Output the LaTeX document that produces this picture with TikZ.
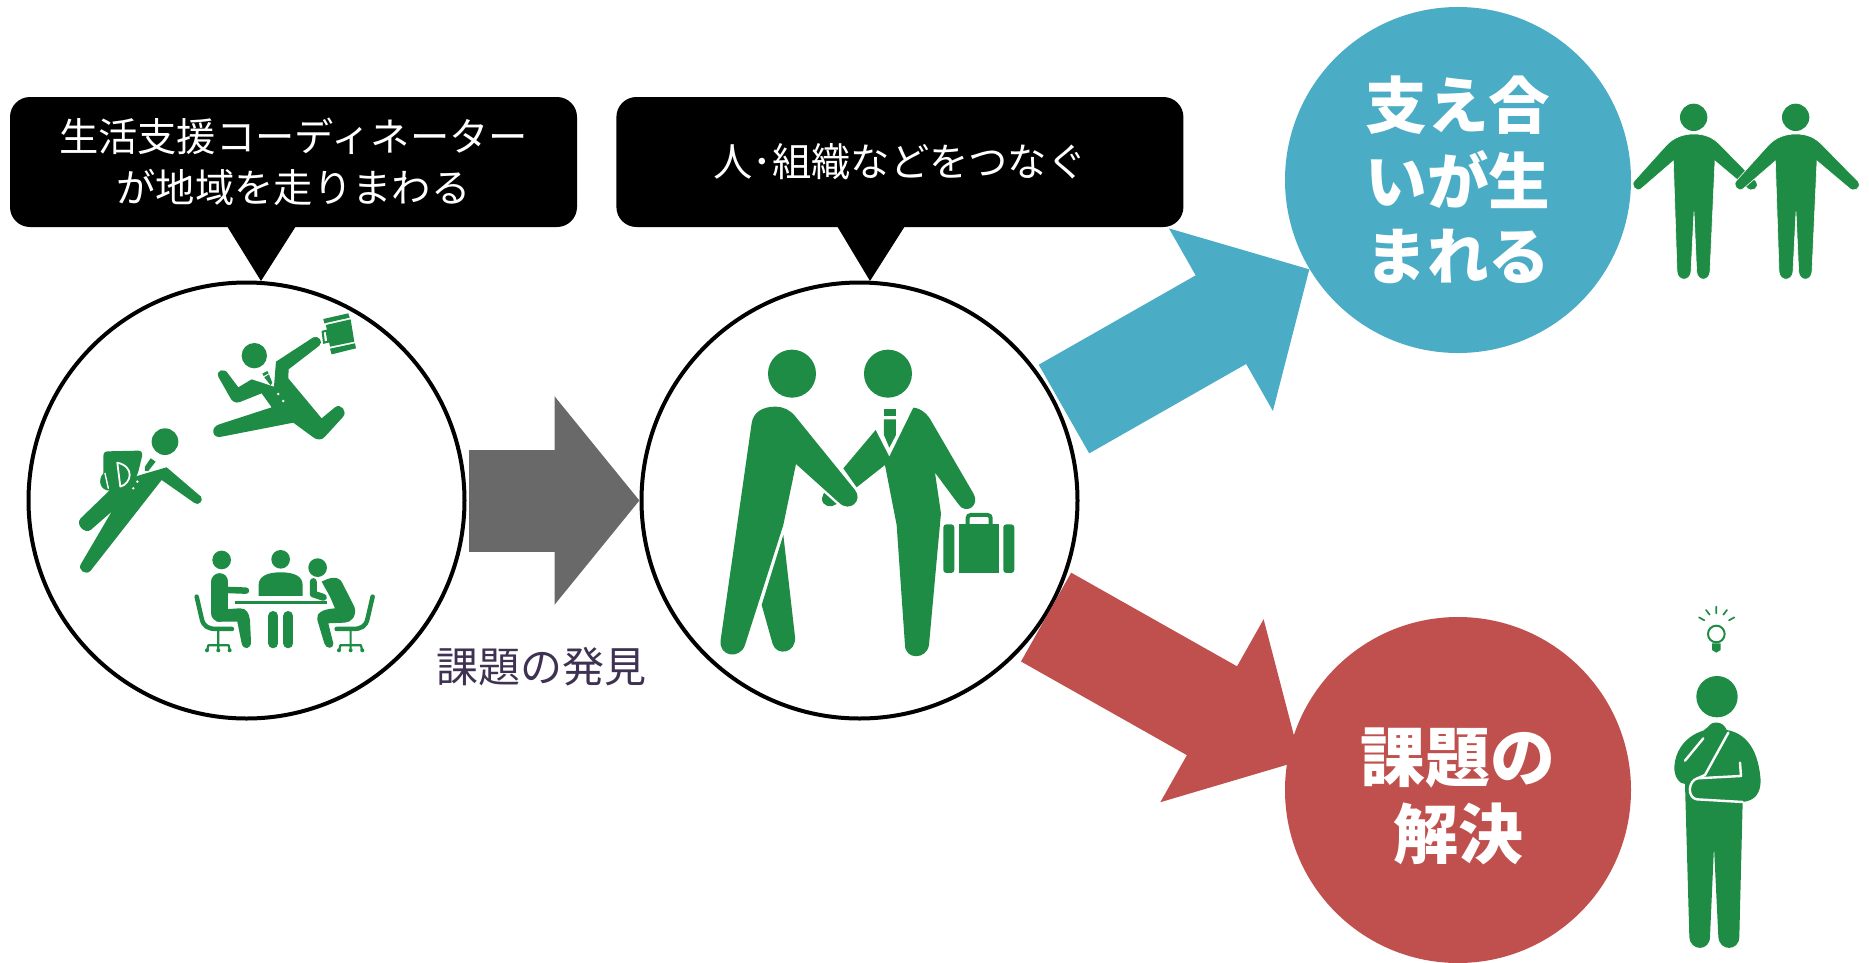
\documentclass[tikz,border=0pt]{standalone}
\usepackage{fontspec}
\setmainfont{Noto Sans CJK JP}
\usepackage{xcolor}
\usetikzlibrary{arrows.meta, positioning}
\definecolor{iconfill}{HTML}{1F8C45}
\definecolor{mutualblue}{HTML}{4BACC6}
\definecolor{solvered}{HTML}{C0504D}
\definecolor{flowgray}{HTML}{696969}
\definecolor{findink}{HTML}{3F3151}
\newcommand{\dropped}[2]{\raisebox{-#1}[\height][\depth]{\begin{tabular}{@{}c@{}}#2\end{tabular}}}
\tikzset{
    hub/.style={circle, draw=black, line width=4pt, fill=white, minimum size=436pt, inner sep=0pt},
    cue/.style={rounded corners=20pt, fill=black, text=white, minimum width=567pt, minimum height=130pt, align=center, font=\fontsize{39.3}{50.5}\selectfont},
    goal/.style={circle, text=white, minimum size=346pt, inner sep=0pt, align=center, font=\bfseries},
    flow/.style={line width=102pt, -{Triangle[length=#1, width=204pt]}},
    crop/.style 2 args={shift={(#1,#2)}, x=.3333pt, y=-.3333pt},
    icon/.style={fill=iconfill},
    limb/.style={draw=iconfill, line cap=round, line join=round},
    gap/.style={draw=white, line cap=round, line join=round, line width=2.4pt},
}
\begin{document}
\begin{tikzpicture}[x=1pt, y=-1pt]
        \useasboundingbox (0,0) rectangle (1869,962);

        \node[hub]                      (seek) at (246.5,500.5) {};
        \node[hub, right=173pt of seek] (link) {};
        \node[cue]                      (cueseek) at (293.5,162) {\dropped{5pt}{生活支援コーディネーター\\が地域を走りまわる}};
        \node[cue, right=39pt of cueseek] (cuelink) {人･組織などをつなぐ};
        \node[goal, fill=mutualblue, font=\bfseries\fontsize{61.6}{75}\selectfont] (mutual) at (1458,180) {\dropped{9pt}{支え合\\いが生\\まれる}};
        \node[goal, fill=solvered, font=\bfseries\fontsize{65}{71}\selectfont]   (solve)  at (1458,790) {\dropped{14pt}{課題の\\解決}};
        \node[text=findink, font=\fontsize{42}{50}\selectfont] (find) at (541,667) {課題の発見};

        \fill[black] (227,226) -- (296,226) -- (261,281) -- cycle;
        \fill[black] (837,226) -- (905,226) -- (870,281) -- cycle;

        \draw[flow=85pt, flowgray, shorten <=2pt] (seek) -- (link);
        \draw[flow=102pt, mutualblue, shorten <=4pt] (link.24) -- (mutual.211);
        \draw[flow=102pt, solvered, shorten >=-14pt] (link.-32) -- (solve.168);

        \begin{scope}[crop={20}{280}]
            \fill[icon] (703,227) circle[radius=38];
            \fill[icon] (768,245) -- (880,172) .. controls (895,165) and (912,185) .. (898,197) -- (806,268) -- (805,295)
                -- (905,415) -- (945,382) .. controls (962,368) and (985,395) .. (968,412) -- (915,470)
                .. controls (905,482) and (890,480) .. (880,472) -- (820,428) -- (605,470)
                .. controls (578,478) and (568,442) .. (598,433) -- (755,382) -- (725,340) -- (660,366)
                .. controls (645,372) and (635,362) .. (630,352) -- (596,292) .. controls (585,270) and (615,262) .. (625,282)
                -- (655,322) -- (695,298) -- (762,320) -- cycle;
            \fill[icon] (727,281) -- (742,273) -- (746,280) -- (731,288) -- cycle;
            \fill[icon] (733,292) -- (747,283) -- (757,308) -- (752,316) -- cycle;
            \fill[white] (775,342) circle[radius=4] (790,363) circle[radius=4];
            \fill[icon] (910,117) -- (985,100) -- (989,113) -- (913,130) -- cycle;
            \fill[icon] (918,135) -- (992,118) -- (1003,185) -- (930,200) -- cycle;
            \fill[icon] (930,206) -- (1005,190) -- (1008,205) -- (935,223) -- cycle;
            \draw[iconfill, line width=2pt] (908,155) -- (920,152) -- (925,185) -- (912,188) -- cycle;

            \fill[icon] (435,485) circle[radius=40];
            \fill[icon] (440,562) -- (543,650) .. controls (552,662) and (535,680) .. (522,668) -- (425,600) -- (212,872)
                .. controls (198,888) and (170,870) .. (184,850) -- (275,695) -- (212,750)
                .. controls (195,762) and (165,735) .. (182,715) -- (270,630) -- (345,590) -- (378,580) -- cycle;
            \fill[icon] (250,530) .. controls (250,518) and (255,514) .. (265,514) -- (355,512)
                .. controls (365,512) and (368,520) .. (366,530) -- (355,575) .. controls (345,610) and (310,632) .. (270,632)
                .. controls (240,632) and (232,600) .. (250,580) -- cycle;
            \draw[gap, line width=1.8pt] (292,548) -- (301,620) .. controls (335,610) and (345,560) .. (292,548);
            \draw[gap, line width=1.4pt] (255,580) -- (265,625);
            \fill[icon] (392,535) -- (407,545) -- (385,573) -- (375,573) -- (375,560) -- cycle;
            \fill[white] (352,605) circle[radius=4] (340,625) circle[radius=4];

            \fill[icon] (605,840) circle[radius=28] (782,838) circle[radius=28] (893,863) circle[radius=28];
            \draw[limb, line width=17pt] (600,905) -- (600,1000);
            \draw[limb, line width=6.5pt] (625,930) -- (678,932);
            \fill[icon] (580,990) -- (660,985) .. controls (680,985) and (687,1000) .. (690,1020) -- (693,1085)
                .. controls (694,1108) and (670,1112) .. (665,1090) -- (652,1025) -- (590,1025) -- cycle;
            \fill[icon] (716,948) -- (716,915) .. controls (716,890) and (740,877) .. (782,877)
                .. controls (825,877) and (848,890) .. (848,915) -- (848,948) -- cycle;
            \fill[icon] (645,962) rectangle (920,972);
            \draw[limb, line width=10pt] (760,1008) -- (760,1090) (805,1008) -- (805,1090);
            \fill[icon] (905,905) .. controls (925,895) and (950,885) .. (965,905) -- (1003,980)
                .. controls (1012,1005) and (995,1028) .. (975,1028) -- (925,1030) -- (940,1090)
                .. controls (942,1108) and (918,1108) .. (913,1090) -- (892,1020)
                .. controls (888,1000) and (905,988) .. (945,985) -- (930,950) -- cycle;
            \draw[limb, line width=7pt] (880,905) -- (880,942) -- (910,952);
            \draw[limb, line width=4.5pt] (530,950) -- (545,1015) .. controls (550,1040) and (565,1047) .. (590,1047) -- (636,1047);
            \draw[limb, line width=4.5pt] (1058,950) -- (1043,1015) .. controls (1038,1040) and (1023,1047) .. (998,1047) -- (950,1047);
            \draw[limb, line width=2.2pt] (595,1047) -- (595,1108) (562,1110) -- (565,1096) -- (626,1096) -- (629,1110);
            \draw[limb, line width=2.2pt] (992,1047) -- (992,1108) (958,1110) -- (961,1096) -- (1023,1096) -- (1026,1110);
            \foreach \wheelx in {561, 595, 629, 957, 992, 1027}
                \fill[icon] (\wheelx,1111) circle[radius=6];
        \end{scope}

        \begin{scope}[crop={640}{280}]
            \fill[icon] (456,281) circle[radius=72] (744,281) circle[radius=72];
            \fill[icon] (335,430) .. controls (340,395) and (370,380) .. (405,380) .. controls (430,380) and (450,390) .. (465,408)
                -- (645,630) .. controls (670,660) and (630,700) .. (597,668) -- (468,552) -- (430,735) -- (315,1095)
                .. controls (300,1140) and (235,1130) .. (242,1080) -- cycle;
            \fill[icon] (430,765) -- (465,1070) .. controls (470,1120) and (410,1130) .. (398,1092) -- (365,975) -- cycle;
            \fill[icon] (552,638) -- (590,672) .. controls (575,685) and (545,680) .. (546,655) -- cycle;
            \fill[icon] (820,383) .. controls (845,385) and (865,405) .. (875,425) -- (1000,640)
                .. controls (1022,680) and (975,705) .. (955,672) -- (885,578) -- (903,700) -- (867,1095)
                .. controls (860,1140) and (795,1140) .. (795,1095) -- (770,735) -- (735,555) -- (650,622) -- (610,565)
                -- (707,450) -- (748,530) -- cycle;
            \fill[icon] (732,387) rectangle (768,407);
            \fill[icon] (732,418) -- (768,418) -- (768,465) -- (748,503) -- (732,465) -- cycle;
            \fill[icon, rounded corners=3pt] (910,733) rectangle (943,879);
            \fill[icon] (957,733) rectangle (1077,879);
            \fill[icon, rounded corners=3pt] (1090,733) rectangle (1123,879);
            \draw[iconfill, line width=4pt, rounded corners=3pt] (983,733) -- (983,705) -- (1052,705) -- (1052,733);
        \end{scope}

        \foreach \offs in {1620, 1722} {
            \begin{scope}[crop={\offs}{90}]
                \fill[icon] (221,82) circle[radius=41];
                \path[icon, draw=white, line width=.6pt] (221,132) .. controls (255,132) and (280,142) .. (304,168)
                    -- (409,275) .. controls (420,295) and (395,310) .. (379,292) -- (285,213) -- (270,545)
                    .. controls (268,575) and (232,575) .. (230,545) -- (222,365) -- (213,545)
                    .. controls (211,575) and (173,575) .. (171,545) -- (160,213) -- (65,295)
                    .. controls (50,310) and (28,285) .. (45,270) -- (137,168) .. controls (160,142) and (190,132) .. (221,132) -- cycle;
            \end{scope}
        }

        \begin{scope}[crop={1640}{590}]
            \draw[iconfill, line width=2pt] (229,132) circle[radius=25];
            \fill[icon] (216,160) -- (242,160) -- (242,180) -- (229,188) -- (216,180) -- cycle;
            \draw[limb, line width=1.7pt] (229,50) -- (229,70) (198,60) -- (209,74) (261,60) -- (250,74)
                (177,82) -- (193,91) (283,82) -- (267,91);
            \fill[icon] (231,320) circle[radius=62];
            \fill[icon] (190,422) .. controls (130,440) and (105,490) .. (103,530) .. controls (102,560) and (118,582) .. (135,582)
                -- (148,1040) .. controls (150,1085) and (210,1085) .. (210,1040) -- (222,770) -- (235,1040)
                .. controls (237,1085) and (298,1085) .. (298,1040) -- (308,636) .. controls (345,632) and (362,610) .. (362,570)
                .. controls (355,480) and (320,435) .. (270,422) -- (260,420) .. controls (250,392) and (215,392) .. (205,410) -- cycle;
            \draw[gap] (190,445) -- (135,512);
            \draw[gap] (265,428) -- (195,555) -- (172,565) .. controls (145,572) and (140,622) .. (170,628) -- (308,636);
            \draw[gap] (172,565) -- (303,558) -- (300,518);
        \end{scope}
\end{tikzpicture}
\end{document}
